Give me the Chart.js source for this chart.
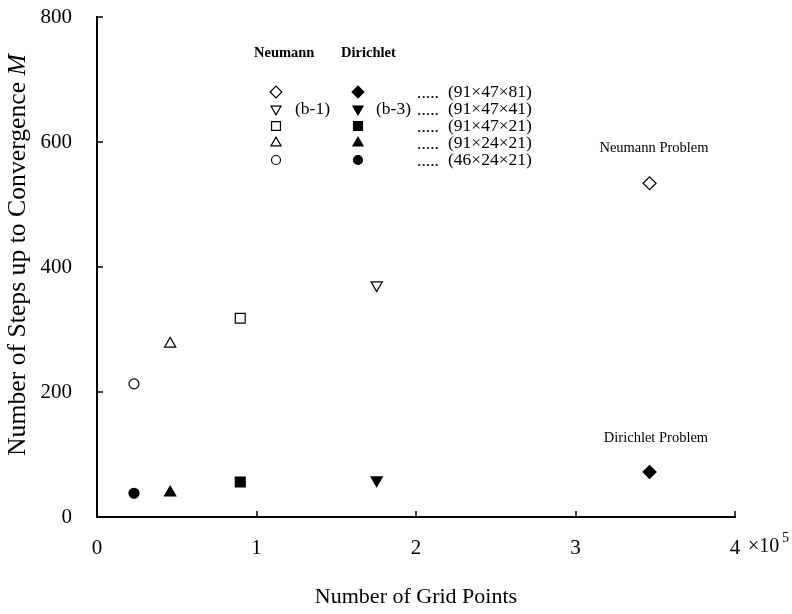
<!DOCTYPE html>
<html>
<head>
<meta charset="utf-8">
<script src="https://cdn.jsdelivr.net/npm/chart.js@4"></script>
<style>
  body { margin: 0; background: #fff; }
</style>
</head>
<body>
<canvas id="myChart" width="792" height="614"></canvas>
<script>
// grid sizes (nx × ny × nz) and their total number of grid points
const gridLabels = ["(46×24×21)", "(91×24×21)", "(91×47×21)", "(91×47×41)", "(91×47×81)"];
const gridPoints = [23184, 45864, 89817, 175357, 346437];
const neumannSteps = [213, 277, 318, 371, 534];
const dirichletSteps = [38, 39, 56, 59, 72];
const markerStyles = ["circle", "triangle", "rect", "triangle", "rectRot"];
const markerRotations = [0, 0, 0, 180, 0];
const markerRadius = [5, 6.5, 7, 6.5, 6.5];
const xTickLabels = ["0", "1", "2", "3", "4"];
const caseTags = ["", "", "", "(b-1)", ""];
const caseTagsDirichlet = ["", "", "", "(b-3)", ""];

const serif = "'Liberation Serif', 'Times New Roman', serif";

const extras = {
  id: "extras",
  afterDraw(chart) {
    const ctx = chart.ctx;
    const xs = chart.scales.x;
    const ys = chart.scales.y;
    const area = chart.chartArea;
    ctx.save();
    ctx.strokeStyle = "#000";
    ctx.fillStyle = "#000";
    ctx.lineWidth = 1.5;

    // inward tick marks
    for (let v = 1e5; v <= 4e5; v += 1e5) {
      const px = Math.round(xs.getPixelForValue(v));
      ctx.beginPath();
      ctx.moveTo(px, area.bottom);
      ctx.lineTo(px, area.bottom - 6);
      ctx.stroke();
    }
    for (let v = 200; v <= 800; v += 200) {
      const py = Math.round(ys.getPixelForValue(v));
      ctx.beginPath();
      ctx.moveTo(area.left, py);
      ctx.lineTo(area.left + 6, py);
      ctx.stroke();
    }

    // "×10^5" after the last x tick
    const x4 = xs.getPixelForValue(4e5);
    ctx.font = "20px " + serif;
    ctx.textAlign = "left";
    ctx.textBaseline = "middle";
    ctx.fillText("×10", x4 + 13, 547);
    ctx.font = "14px " + serif;
    ctx.fillText("5", x4 + 47, 538);

    // axis titles
    ctx.font = "22px " + serif;
    ctx.textAlign = "center";
    ctx.textBaseline = "middle";
    ctx.fillText("Number of Grid Points", 416, 597);

    ctx.save();
    ctx.translate(25, 255);
    ctx.rotate(-Math.PI / 2);
    ctx.textBaseline = "alphabetic";
    const t1 = "Number of Steps up to Convergence ";
    const t2 = "M";
    ctx.font = "25.7px " + serif;
    const w1 = ctx.measureText(t1).width;
    ctx.font = "italic 25.7px " + serif;
    const w2 = ctx.measureText(t2).width;
    ctx.textAlign = "left";
    ctx.font = "25.7px " + serif;
    ctx.fillText(t1, -(w1 + w2) / 2, 0);
    ctx.font = "italic 25.7px " + serif;
    ctx.fillText(t2, -(w1 + w2) / 2 + w1, 0);
    ctx.restore();
    ctx.textBaseline = "middle";

    // legend block
    ctx.font = "bold 14.5px " + serif;
    ctx.textAlign = "left";
    ctx.fillText("Neumann", 254, 53);
    ctx.fillText("Dirichlet", 341, 53);

    const rowY = [160, 143, 126, 109, 92];
    for (let i = 0; i < gridLabels.length; i++) {
      const y = rowY[i];
      const opt = {
        pointStyle: markerStyles[i],
        rotation: markerRotations[i],
        radius: markerRadius[i] * 0.9,
        borderWidth: 1.2
      };
      ctx.lineWidth = 1.2;
      ctx.fillStyle = "#fff";
      Chart.helpers.drawPoint(ctx, opt, 276, y);
      ctx.fillStyle = "#000";
      Chart.helpers.drawPoint(ctx, opt, 358, y);

      ctx.font = "17.5px " + serif;
      ctx.textAlign = "left";
      ctx.fillText(".....", 417, y + 1);
      ctx.fillText(gridLabels[i], 448, y);
      if (caseTags[i]) ctx.fillText(caseTags[i], 295, y);
      if (caseTagsDirichlet[i]) ctx.fillText(caseTagsDirichlet[i], 376, y);
    }

    // problem annotations
    ctx.font = "14.5px " + serif;
    ctx.textAlign = "center";
    ctx.fillText("Neumann Problem", 654, 148);
    ctx.fillText("Dirichlet Problem", 656, 438);
    ctx.restore();
  }
};

const data = {
  datasets: [
    {
      label: "Neumann",
      data: gridPoints.map((g, i) => ({ x: g, y: neumannSteps[i] })),
      pointStyle: markerStyles,
      rotation: markerRotations,
      pointRadius: markerRadius,
      backgroundColor: "#fff",
      borderColor: "#000",
      borderWidth: 1.2
    },
    {
      label: "Dirichlet",
      data: gridPoints.map((g, i) => ({ x: g, y: dirichletSteps[i] })),
      pointStyle: markerStyles,
      rotation: markerRotations,
      pointRadius: markerRadius,
      backgroundColor: "#000",
      borderColor: "#000",
      borderWidth: 1.2
    }
  ]
};

const config = {
  type: "scatter",
  data,
  options: {
    responsive: false,
    animation: false,
    devicePixelRatio: 1,
    layout: { padding: { top: 17, right: 57, left: 0, bottom: 0 } },
    plugins: { legend: { display: false }, tooltip: { enabled: false } },
    scales: {
      x: {
        type: "linear",
        min: 0,
        max: 4e5,
        grid: { display: false, drawTicks: false },
        border: { display: true, color: "#000", width: 2 },
        ticks: {
          stepSize: 1e5,
          padding: 19,
          color: "#000",
          font: { family: serif, size: 21 },
          callback: (v, i) => xTickLabels[i]
        },
        afterFit: (scale) => {
          scale.height = 97;
          scale.paddingLeft = 0;
          scale.paddingRight = 0;
        }
      },
      y: {
        min: 0,
        max: 800,
        grid: { display: false, drawTicks: false },
        border: { display: true, color: "#000", width: 2 },
        ticks: {
          stepSize: 200,
          padding: 25,
          color: "#000",
          font: { family: serif, size: 21 }
        },
        afterFit: (scale) => {
          scale.width = 97;
          scale.paddingTop = 0;
          scale.paddingBottom = 0;
        }
      }
    }
  },
  plugins: [extras]
};

var myChart = new Chart(document.getElementById("myChart"), config);
</script>
</body>
</html>
